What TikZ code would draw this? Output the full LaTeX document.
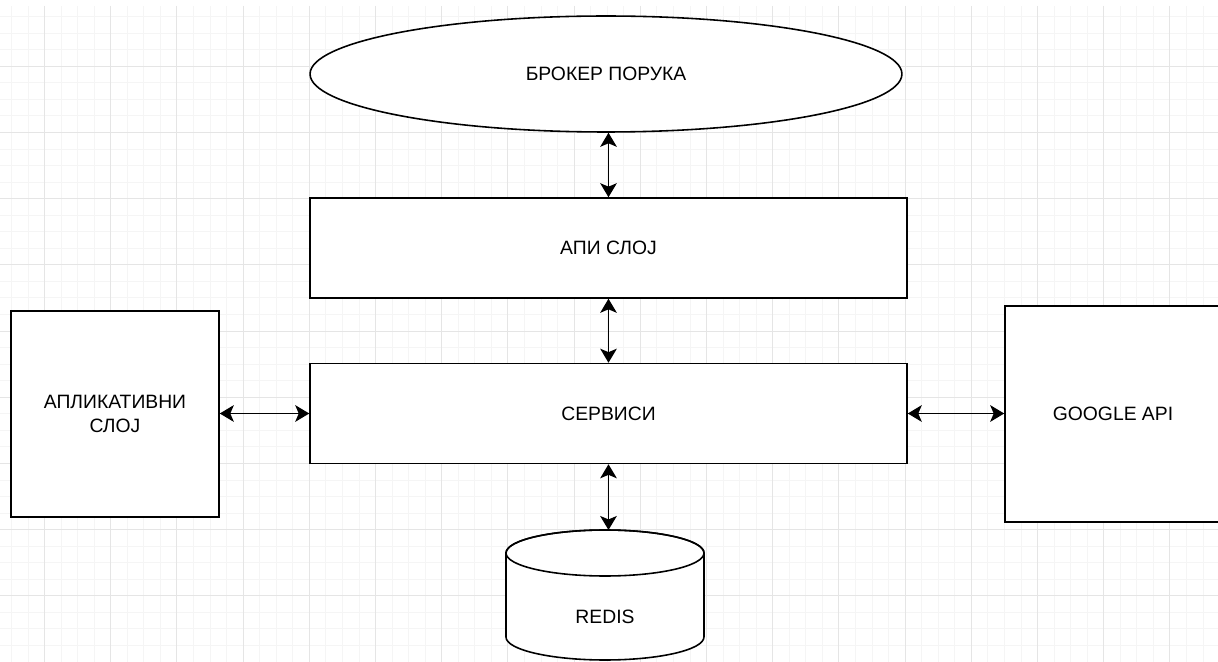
\documentclass[tikz,border=0pt]{standalone}
\usepackage{fontspec}
\setmainfont{Liberation Sans}
\usetikzlibrary{arrows.meta,shapes.geometric}
\colorlet{gridminor}{black!4}
\colorlet{gridmajor}{black!10}
\tikzstyle{layer} = [
  draw=black,
  line width=0.9pt,
  fill=white,
  inner sep=0pt,
  align=center,
  font=\fontsize{11}{13.6}\selectfont,
]
\tikzstyle{link} = [
  line width=0.8pt,
  {Stealth[length=8pt,width=9.5pt,inset=2pt]}-{Stealth[length=8pt,width=9.5pt,inset=2pt]},
]

\begin{document}
\begin{tikzpicture}[x=0.02cm, y=-0.02cm]
    \useasboundingbox (0,0) rectangle (1218,662);
    \def\rx{1.98cm}
    \def\ry{0.46cm}

    % Grid
    \foreach \i in {0,...,73}
        \draw[gridminor, line width=0.5pt] ({11.4+16.55*\i},6) -- ({11.4+16.55*\i},662);
    \foreach \j in {1,...,40}
        \draw[gridminor, line width=0.5pt] (0,{16.55*\j}) -- (1218,{16.55*\j});
    \foreach \i in {0,...,17}
        \draw[gridmajor, line width=0.5pt] ({44.5+66.2*\i},6) -- ({44.5+66.2*\i},662);
    \foreach \j in {1,...,10}
        \draw[gridmajor, line width=0.5pt] (0,{66.2*\j}) -- (1218,{66.2*\j});

    % Layers
    \node[layer, ellipse, minimum width=11.84cm, minimum height=2.32cm] (broker) at (606,74) {БРОКЕР ПОРУКА};
    \node[layer, minimum width=11.94cm, minimum height=2cm] (api) at (608.5,248) {АПИ СЛОЈ};
    \node[layer, minimum width=11.94cm, minimum height=2cm] (services) at (608.5,413.5) {СЕРВИСИ};
    \node[layer, minimum width=4.16cm, minimum height=4.12cm] (app) at (115,414) {АПЛИКАТИВНИ\\СЛОЈ};
    \node[layer, minimum width=4.32cm, minimum height=4.32cm] (google) at (1113,414) {GOOGLE API};

    % Redis
    \coordinate (redistop) at (605,530);
    \draw[line width=0.9pt, fill=white] (506,553) -- (506,637)
        arc[start angle=180, end angle=360, x radius=\rx, y radius=\ry] -- (704,553)
        arc[start angle=0, end angle=180, x radius=\rx, y radius=\ry] -- cycle;
    \draw[line width=0.9pt] (605,553) ellipse[x radius=\rx, y radius=\ry];
    \node[font=\fontsize{11}{13.6}\selectfont] (redis) at (605,617) {REDIS};

    % Links
    \draw[link] (api.north) -- (api.north |- broker.south);
    \draw[link] (services.north) -- (api.south);
    \draw[link] (services.south) -- (services.south |- redistop);
    \draw[link] (services.west -| app.east) -- (services.west);
    \draw[link] (services.east) -- (services.east -| google.west);
\end{tikzpicture}
\end{document}
